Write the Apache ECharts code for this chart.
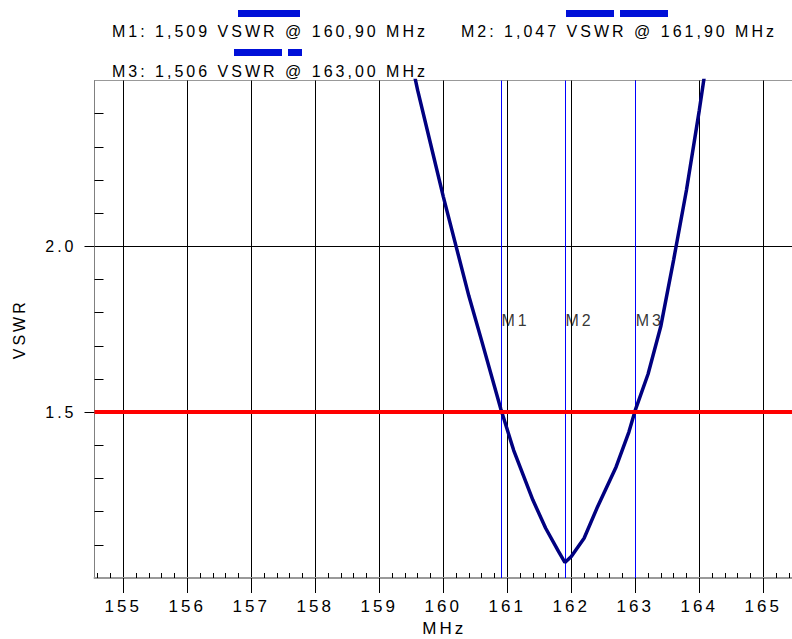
<!DOCTYPE html>
<html>
<head>
<meta charset="utf-8">
<script src="https://cdn.jsdelivr.net/npm/echarts@6/dist/echarts.min.js"></script>
<style>
html, body { margin: 0; padding: 0; background: #ffffff; }
#main { width: 792px; height: 639px; }
#main text { letter-spacing: 3px; }
</style>
</head>
<body>
<div id="main"></div>
<script>
// ---- data ----
const freqMHz = [159.5, 159.6, 159.8, 160.0, 160.2, 160.4, 160.6, 160.9, 161.1, 161.4, 161.6, 161.8, 161.9,
                 162.0, 162.2, 162.4, 162.7, 162.9, 163.0, 163.2, 163.4, 163.6, 163.8, 164.0, 164.2];
const vswrValues = [2.56, 2.47, 2.31, 2.15, 2.00, 1.85, 1.715, 1.509, 1.385, 1.235, 1.15, 1.08, 1.047,
                    1.065, 1.12, 1.21, 1.335, 1.44, 1.506, 1.615, 1.76, 1.96, 2.17, 2.41, 2.67];
const markerNames = ['M1', 'M2', 'M3'];
const markerFreq = [160.90, 161.90, 163.00];
const markerVswr = [1.509, 1.047, 1.506];
const limitVswr = 1.5;
const xTicks = [155, 156, 157, 158, 159, 160, 161, 162, 163, 164, 165];
const yTicks = [1.5, 2.0];
const yMinorTicks = [1.1, 1.2, 1.3, 1.4, 1.6, 1.7, 1.8, 1.9, 2.1, 2.2, 2.3, 2.4];

// ---- axis ranges / layout ----
const xMin = 154.55, xMax = 165.48;
const yMin = 1.0, yMax = 2.5;
const markerLabelLevel = 1.775;
const FONT = 'Liberation Sans, Arial, sans-serif';

const xMinorTicks = [];
for (let k = Math.ceil(xMin * 5); k <= Math.floor(xMax * 5); k++) {
  if (k % 5 !== 0) xMinorTicks.push(+(k / 5).toFixed(1));
}

function fmt(v, d) { return v.toFixed(d).replace('.', ','); }
const legendTexts = markerNames.map((n, i) =>
  n + ': ' + fmt(markerVswr[i], 3) + ' VSWR @ ' + fmt(markerFreq[i], 2) + ' MHz');

const chart = echarts.init(document.getElementById('main'), null, { renderer: 'svg' });

const option = {
  animation: false,
  backgroundColor: '#ffffff',
  textStyle: { fontFamily: FONT },
  grid: {
    left: 94.5, top: 80.5, right: -2, bottom: 61,
    show: true, borderColor: '#999999', borderWidth: 1,
    outerBoundsMode: 'none'
  },
  graphic: [
    { type: 'rect', shape: { x: 238, y: 10, width: 62, height: 7 }, style: { fill: '#0010d8' } },
    { type: 'rect', shape: { x: 566, y: 10, width: 48, height: 7 }, style: { fill: '#0010d8' } },
    { type: 'rect', shape: { x: 620, y: 10, width: 48, height: 7 }, style: { fill: '#0010d8' } },
    { type: 'rect', shape: { x: 234, y: 49, width: 48, height: 7 }, style: { fill: '#0010d8' } },
    { type: 'rect', shape: { x: 288, y: 49, width: 14, height: 7 }, style: { fill: '#0010d8' } },
    { type: 'text', x: 112, y: 31.5, style: { text: legendTexts[0], font: '16px ' + FONT, fill: '#000', verticalAlign: 'middle', align: 'left' } },
    { type: 'text', x: 461, y: 31.5, style: { text: legendTexts[1], font: '16px ' + FONT, fill: '#000', verticalAlign: 'middle', align: 'left' } },
    { type: 'text', x: 112, y: 71, style: { text: legendTexts[2], font: '16px ' + FONT, fill: '#000', verticalAlign: 'middle', align: 'left' } }
  ],
  xAxis: [
    {
      type: 'value', min: xMin, max: xMax, position: 'bottom',
      name: 'MHz', nameLocation: 'middle', nameGap: 41,
      nameTextStyle: { fontSize: 17, color: '#000', fontFamily: FONT },
      axisLine: { show: true, onZero: false, lineStyle: { color: '#999999', width: 2 } },
      axisTick: { show: true, inside: false, length: 15, customValues: xTicks, lineStyle: { color: '#000', width: 1 } },
      axisLabel: { show: true, customValues: xTicks, margin: 20, fontSize: 17, color: '#000', fontFamily: FONT },
      splitLine: { show: true, lineStyle: { color: '#000', width: 1 } }
    },
    {
      type: 'value', min: xMin, max: xMax, position: 'bottom',
      axisLine: { show: false },
      axisTick: { show: true, inside: true, length: 5, customValues: xMinorTicks, lineStyle: { color: '#000', width: 1 } },
      axisLabel: { show: false },
      splitLine: { show: false }
    }
  ],
  yAxis: [
    {
      type: 'value', min: yMin, max: yMax, position: 'left',
      name: 'VSWR', nameLocation: 'middle', nameGap: 67,
      nameTextStyle: { fontSize: 16, color: '#000', fontFamily: FONT },
      axisLine: { show: true, onZero: false, lineStyle: { color: '#808080', width: 1 } },
      axisTick: { show: true, inside: false, length: 10, customValues: yTicks, lineStyle: { color: '#000', width: 1 } },
      axisLabel: { show: true, customValues: yTicks, margin: 18, fontSize: 16, color: '#000', fontFamily: FONT,
                   formatter: v => v.toFixed(1) },
      splitLine: { show: true, lineStyle: { color: '#000', width: 1 } }
    },
    {
      type: 'value', min: yMin, max: yMax, position: 'left',
      axisLine: { show: false },
      axisTick: { show: true, inside: true, length: 9, customValues: yMinorTicks, lineStyle: { color: '#000', width: 1 } },
      axisLabel: { show: false },
      splitLine: { show: false }
    }
  ],
  series: [
    {
      name: 'VSWR', type: 'line', xAxisIndex: 0, yAxisIndex: 0,
      data: freqMHz.map((f, i) => [f, vswrValues[i]]),
      showSymbol: false, smooth: false, clip: true, z: 3,
      lineStyle: { color: '#000080', width: 3.5 },
      markLine: {
        silent: true, symbol: ['none', 'none'], z: 6,
        label: { show: false },
        lineStyle: { color: '#ff0000', width: 4, type: 'solid' },
        data: [{ yAxis: limitVswr }]
      }
    },
    {
      name: 'Markers', type: 'scatter', xAxisIndex: 0, yAxisIndex: 0,
      data: markerFreq.map((f, i) => ({ value: [f, markerLabelLevel], name: markerNames[i] })),
      symbolSize: 1, itemStyle: { color: 'rgba(0,0,0,0)' }, z: 4,
      label: { show: true, formatter: '{b}', position: 'right', distance: 0, fontSize: 16, color: '#000', fontFamily: FONT },
      markLine: {
        silent: true, symbol: ['none', 'none'], z: 1,
        label: { show: false },
        lineStyle: { color: '#0000ff', width: 1, type: 'solid' },
        data: markerFreq.map(f => ({ xAxis: f }))
      }
    }
  ]
};
chart.setOption(option);
</script>
</body>
</html>
